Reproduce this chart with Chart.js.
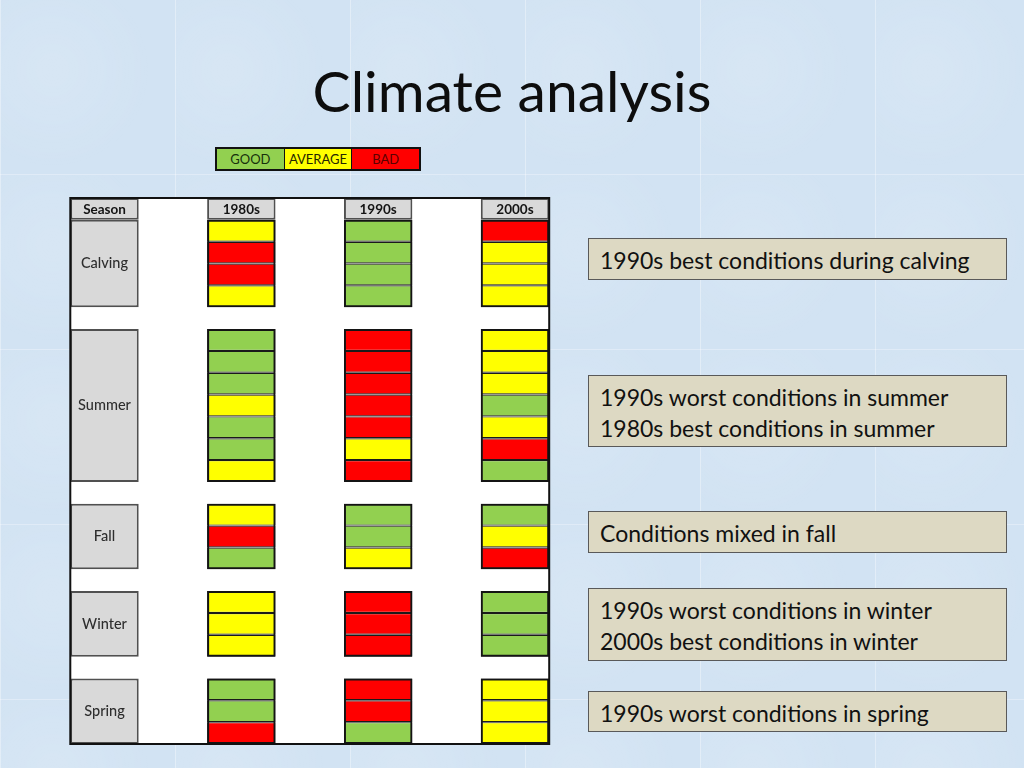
<!DOCTYPE html>
<html>
<head>
<meta charset="utf-8">
<title>Climate analysis</title>
<script src="https://cdn.jsdelivr.net/npm/chart.js"></script>
<style>
  body {
    margin: 0; width: 1024px; height: 768px; overflow: hidden; position: relative;
    font-family: Lato, "Open Sans", sans-serif;
    background-color: #d2e3f3;
    background-image:
      linear-gradient(90deg, rgba(255,255,255,0.35) 1px, transparent 1px),
      linear-gradient(0deg, rgba(255,255,255,0.3) 1px, transparent 1px),
      radial-gradient(circle at 30% 40%, rgba(255,255,255,0.12), transparent 60%);
    background-size: 175px 175px, 175px 175px, 175px 175px;
  }
  #title {
    position: absolute; left: 0; width: 1024px; top: 60px;
    text-align: center; font-size: 57px; line-height: 60px; color: #0d0d0d;
  }
  #legend {
    position: absolute; left: 215px; top: 147px; width: 206px; display: flex;
    border: 2px solid #111; box-sizing: border-box; height: 24px;
  }
  #legend div {
    flex: 1; height: 20px; line-height: 20px; text-align: center;
    font-size: 13px; border-right: 1px solid #111;
  }
  #legend div:last-child { border-right: none; }
  #grid { position: absolute; left: 0; top: 0; }
  .note {
    position: absolute; left: 588px; width: 419px; box-sizing: border-box;
    background: #ddd9c3; border: 1px solid #595959; padding: 6px 11px;
    font-size: 23px; line-height: 31px; color: #111;
  }
</style>
</head>
<body>
<div id="title">Climate analysis</div>
<div id="legend"></div>
<canvas id="grid" width="1024" height="768"></canvas>
<script>
// table layout: season blocks of monthly rows, one column per decade
var seasons = ['Calving', 'Summer', 'Fall', 'Winter', 'Spring'];
var rowsPerSeason = [4, 7, 3, 3, 3];
var decades = ['1980s', '1990s', '2000s'];
var firstColumn = 'Season';

// G = good, A = average, B = bad (top to bottom, season by season)
var ratings1980s = ['A','B','B','A', 'G','G','G','A','G','G','A', 'A','B','G', 'A','A','A', 'G','G','B'];
var ratings1990s = ['G','G','G','G', 'B','B','B','B','B','A','B', 'G','G','A', 'B','B','B', 'B','B','G'];
var ratings2000s = ['B','A','A','A', 'A','A','A','G','A','B','G', 'G','A','B', 'G','G','G', 'A','A','A'];

var levelCodes = ['G', 'A', 'B'];
var levelNames = ['GOOD', 'AVERAGE', 'BAD'];

var notes = [
  ['1990s best conditions during calving'],
  ['1990s worst conditions in summer', '1980s best conditions in summer'],
  ['Conditions mixed in fall'],
  ['1990s worst conditions in winter', '2000s best conditions in winter'],
  ['1990s worst conditions in spring']
];

var levelColors = { G: '#92d050', A: '#ffff00', B: '#ff0000' };
var levelText = { G: '#17300c', A: '#262600', B: '#5c0000' };
var noteTops = [238, 375, 511, 588, 691];
var noteHeights = [42, 72, 42, 73, 41];

// legend
var legend = document.getElementById('legend');
levelCodes.forEach(function (c, i) {
  var d = document.createElement('div');
  d.textContent = levelNames[i];
  d.style.background = levelColors[c];
  d.style.color = levelText[c];
  legend.appendChild(d);
});

// note boxes
notes.forEach(function (lines, i) {
  var d = document.createElement('div');
  d.className = 'note';
  d.style.top = noteTops[i] + 'px';
  d.style.height = noteHeights[i] + 'px';
  d.innerHTML = lines.join('<br>');
  document.body.appendChild(d);
});

// row blocks: row 0 is the header, one empty row between seasons
var blocks = [];
var r = 1;
seasons.forEach(function (s, i) {
  blocks.push({ name: s, start: r, end: r + rowsPerSeason[i] });
  r += rowsPerSeason[i] + 1;
});
var totalRows = r - 1;

var ratingsByDecade = [ratings1980s, ratings1990s, ratings2000s];
var cellData = [], cellColors = [], outlineData = [], headData = [];
decades.forEach(function (d, di) {
  var k = 0;
  blocks.forEach(function (b) {
    outlineData.push({ x: d, y: [b.start, b.end] });
    for (var row = b.start; row < b.end; row++) {
      cellData.push({ x: d, y: [row, row + 1] });
      cellColors.push(levelColors[ratingsByDecade[di][k++]]);
    }
  });
});
[firstColumn].concat(decades).forEach(function (c) {
  headData.push({ x: c, y: [0, 1] });
});
blocks.forEach(function (b) {
  headData.push({ x: firstColumn, y: [b.start, b.end] });
});

var common = {
  grouped: false, categoryPercentage: 0.5, barPercentage: 1,
  borderSkipped: false, clip: false, inflateAmount: 0
};

function tableEdges(chart) {
  var x = chart.scales.x, y = chart.scales.y;
  var half = (x.getPixelForValue(1) - x.getPixelForValue(0)) * 0.25;
  return {
    left: x.getPixelForValue(0) - half,
    right: x.getPixelForValue(decades.length) + half,
    top: y.getPixelForValue(0),
    bottom: y.getPixelForValue(totalRows)
  };
}

var tableFrame = {
  id: 'tableFrame',
  beforeDatasetsDraw: function (chart) {
    var e = tableEdges(chart), ctx = chart.ctx;
    ctx.save();
    ctx.fillStyle = '#ffffff';
    ctx.fillRect(e.left, e.top, e.right - e.left, e.bottom - e.top);
    ctx.restore();
  },
  afterDatasetsDraw: function (chart) {
    var e = tableEdges(chart), ctx = chart.ctx;
    var x = chart.scales.x, y = chart.scales.y;
    ctx.save();
    ctx.strokeStyle = '#111';
    ctx.lineWidth = 2;
    ctx.strokeRect(e.left, e.top, e.right - e.left, e.bottom - e.top);
    ctx.textAlign = 'center';
    ctx.textBaseline = 'middle';
    ctx.fillStyle = '#141414';
    ctx.font = 'bold 13.5px Lato, sans-serif';
    [firstColumn].concat(decades).forEach(function (c, i) {
      ctx.fillText(c, x.getPixelForValue(i), y.getPixelForValue(0.5) + 1);
    });
    ctx.fillStyle = '#2e2e2e';
    ctx.font = '500 14.5px Lato, sans-serif';
    blocks.forEach(function (b) {
      ctx.fillText(b.name, x.getPixelForValue(0), y.getPixelForValue((b.start + b.end) / 2));
    });
    ctx.restore();
  }
};

new Chart(document.getElementById('grid'), {
  type: 'bar',
  data: {
    labels: [firstColumn].concat(decades),
    datasets: [
      Object.assign({ label: 'outline', data: outlineData, backgroundColor: 'rgba(0,0,0,0)',
        borderColor: '#141414', borderWidth: 2 }, common),
      Object.assign({ label: 'cells', data: cellData, backgroundColor: cellColors,
        borderColor: '#1a1a1a', borderWidth: 1.2 }, common),
      Object.assign({ label: 'heads', data: headData, backgroundColor: '#d9d9d9',
        borderColor: '#505050', borderWidth: 2 }, common)
    ]
  },
  options: {
    responsive: false,
    animation: false,
    layout: { padding: { left: 104.5, right: 509, top: 198, bottom: 24 } },
    scales: {
      x: { display: false, offset: false },
      y: { display: false, reverse: true, min: 0, max: totalRows }
    },
    plugins: { legend: { display: false }, tooltip: { enabled: false } }
  },
  plugins: [tableFrame]
});
</script>
</body>
</html>
